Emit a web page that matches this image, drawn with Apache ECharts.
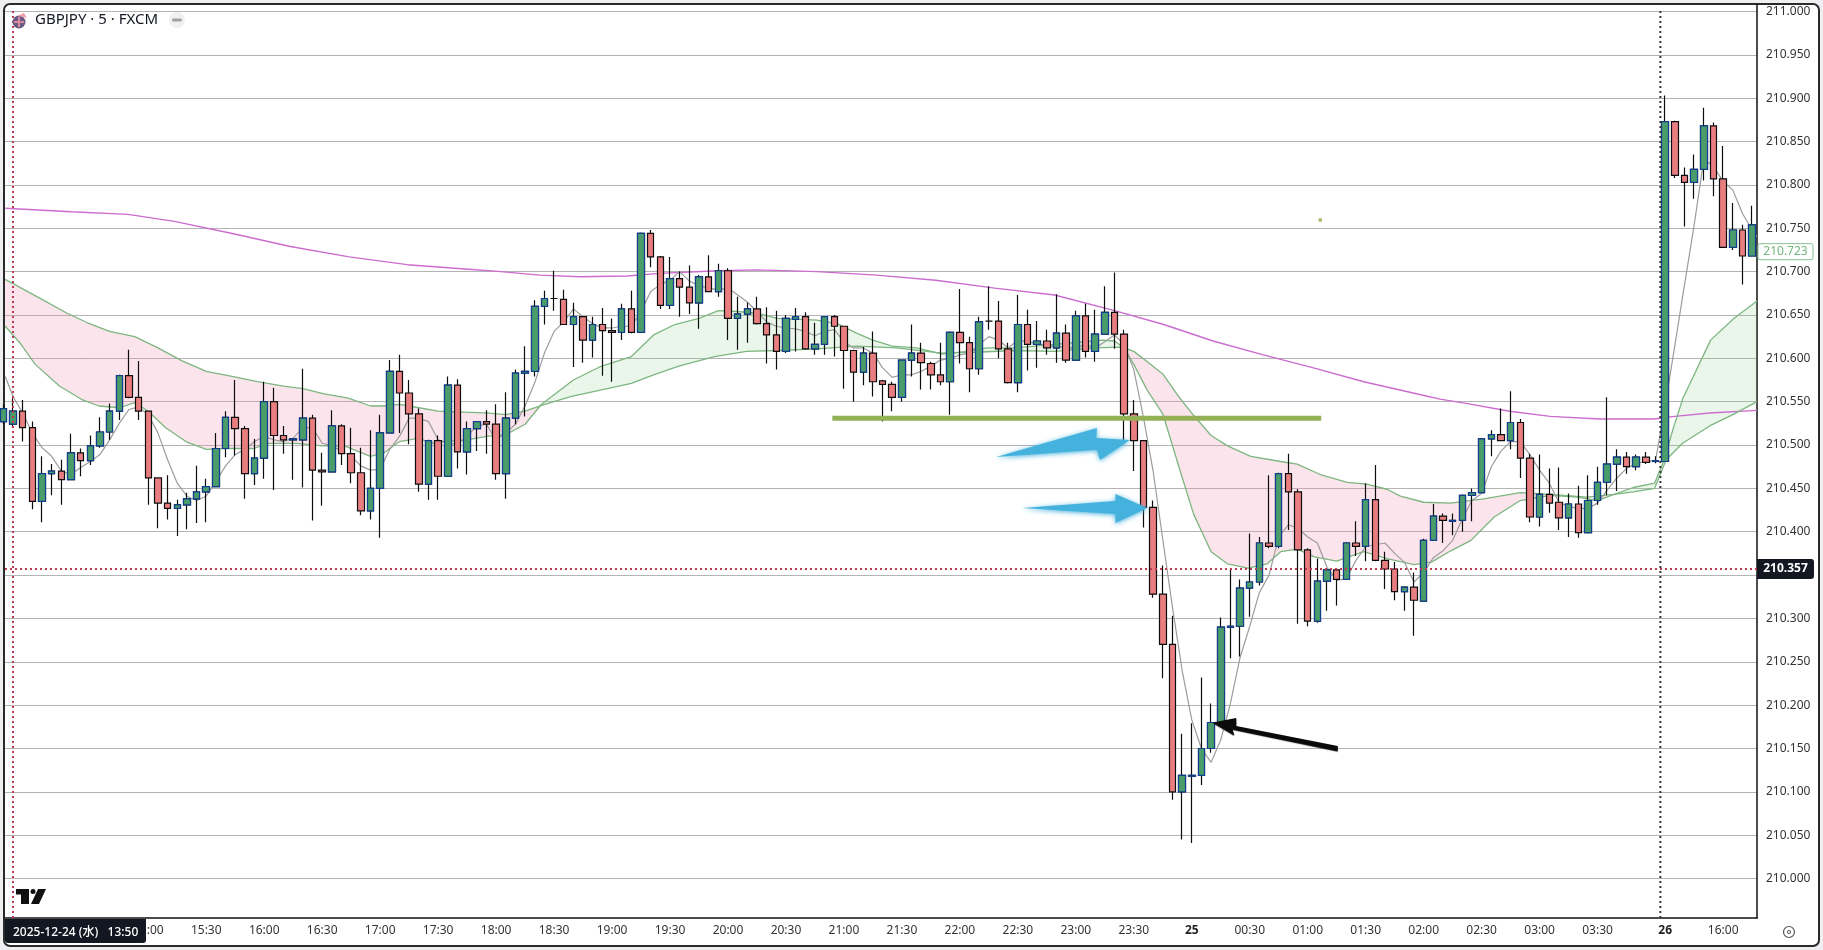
<!DOCTYPE html>
<html><head><meta charset="utf-8">
<style>html,body{margin:0;padding:0;background:#efeff1;overflow:hidden}#c{position:absolute;left:0;top:0;width:1823px;height:950px}</style>
<script src="https://cdn.jsdelivr.net/npm/echarts@6/dist/echarts.min.js"></script>
</head><body><div id="c"></div>
<script>
const barIndex = Array.from({length:182},(_, k)=>k-1);
const opens=[210.527,210.524,210.539,210.520,210.435,210.467,210.470,210.460,210.491,210.482,210.499,210.515,210.539,210.580,210.555,210.539,210.462,210.433,210.427,210.431,210.438,210.446,210.452,210.496,210.532,210.519,210.467,210.485,210.550,210.511,210.506,210.506,210.531,210.471,210.469,210.522,210.490,210.468,210.424,210.450,210.514,210.585,210.560,210.536,210.455,210.505,210.464,210.569,210.492,210.519,210.527,210.524,210.467,210.531,210.583,210.585,210.660,210.669,210.668,210.639,210.648,210.621,210.639,210.632,210.630,210.657,210.630,210.744,210.717,210.661,210.692,210.682,210.664,210.694,210.677,210.701,210.646,210.651,210.657,210.640,210.627,210.608,210.645,210.648,210.611,210.616,210.648,210.637,210.609,210.584,210.606,210.574,210.570,210.555,210.598,210.606,210.594,210.581,210.573,210.630,210.618,210.588,210.643,210.643,210.611,210.572,210.639,210.616,210.620,210.612,210.629,210.598,210.649,210.608,210.628,210.653,210.628,210.536,210.505,210.428,210.328,210.270,210.100,210.118,210.119,210.150,210.180,210.290,210.291,210.335,210.342,210.387,210.383,210.467,210.446,210.379,210.297,210.343,210.356,210.345,210.387,210.383,210.437,210.367,210.357,210.331,210.336,210.320,210.390,210.418,210.412,210.413,210.442,210.445,210.507,210.512,210.505,210.526,210.485,210.417,210.443,210.434,210.416,210.432,210.399,210.436,210.457,210.478,210.486,210.475,210.486,210.481,210.481,210.873,210.811,210.803,210.818,210.868,210.807,210.728,210.748,210.718];
const closes=[210.542,210.539,210.520,210.435,210.467,210.470,210.460,210.491,210.482,210.499,210.515,210.539,210.580,210.555,210.539,210.462,210.433,210.427,210.431,210.438,210.446,210.452,210.496,210.532,210.519,210.467,210.485,210.550,210.511,210.506,210.507,210.531,210.471,210.469,210.522,210.490,210.468,210.424,210.450,210.514,210.585,210.560,210.536,210.455,210.505,210.464,210.569,210.492,210.519,210.527,210.524,210.467,210.531,210.583,210.585,210.660,210.669,210.669,210.639,210.648,210.621,210.639,210.632,210.630,210.657,210.630,210.744,210.717,210.661,210.692,210.682,210.664,210.694,210.677,210.701,210.646,210.651,210.657,210.640,210.627,210.608,210.646,210.648,210.611,210.616,210.648,210.637,210.609,210.584,210.606,210.573,210.570,210.555,210.598,210.606,210.595,210.581,210.573,210.630,210.618,210.588,210.642,210.643,210.611,210.572,210.639,210.616,210.620,210.612,210.629,210.598,210.649,210.608,210.628,210.653,210.628,210.536,210.505,210.428,210.328,210.270,210.100,210.119,210.119,210.150,210.180,210.290,210.291,210.335,210.342,210.387,210.383,210.467,210.446,210.379,210.297,210.343,210.356,210.345,210.387,210.383,210.437,210.367,210.357,210.331,210.336,210.321,210.390,210.418,210.413,210.413,210.442,210.445,210.507,210.512,210.505,210.526,210.485,210.417,210.443,210.433,210.416,210.432,210.399,210.436,210.457,210.478,210.486,210.475,210.486,210.480,210.482,210.873,210.811,210.803,210.818,210.868,210.807,210.728,210.748,210.718,210.754];
const lows=[210.524,210.520,210.504,210.426,210.411,210.442,210.431,210.460,210.464,210.477,210.497,210.506,210.529,210.554,210.529,210.431,210.404,210.414,210.395,210.403,210.410,210.411,210.452,210.486,210.488,210.438,210.454,210.461,210.448,210.490,210.460,210.451,210.413,210.430,210.469,210.477,210.456,210.419,210.414,210.393,210.514,210.514,210.501,210.446,210.437,210.437,210.463,210.473,210.466,210.493,210.490,210.460,210.438,210.524,210.533,210.579,210.639,210.655,210.639,210.590,210.595,210.601,210.580,210.573,210.621,210.629,210.630,210.705,210.657,210.657,210.648,210.651,210.634,210.677,210.671,210.621,210.610,210.618,210.639,210.594,210.587,210.606,210.608,210.610,210.604,210.604,210.602,210.565,210.550,210.569,210.556,210.527,210.539,210.550,210.579,210.564,210.564,210.569,210.535,210.594,210.561,210.581,210.633,210.600,210.571,210.561,210.586,210.589,210.604,210.595,210.595,210.598,210.601,210.596,210.628,210.611,210.503,210.470,210.405,210.324,210.231,210.091,210.045,210.041,210.108,210.145,210.180,210.254,210.256,210.302,210.338,210.381,210.381,210.402,210.294,210.291,210.295,210.309,210.315,210.345,210.372,210.366,210.366,210.334,210.321,210.309,210.280,210.320,210.390,210.387,210.396,210.400,210.412,210.445,210.487,210.505,210.495,210.462,210.411,210.406,210.422,210.402,210.394,210.393,210.398,210.431,210.442,210.447,210.467,210.471,210.478,210.479,210.481,210.808,210.752,210.784,210.805,210.787,210.728,210.725,210.685,210.718];
const highs=[210.547,210.554,210.552,210.527,210.487,210.478,210.483,210.513,210.496,210.511,210.532,210.548,210.581,210.610,210.597,210.539,210.462,210.465,210.437,210.445,210.476,210.461,210.514,210.539,210.575,210.522,210.507,210.573,210.566,210.522,210.508,210.588,210.535,210.491,210.540,210.524,210.520,210.497,210.517,210.535,210.598,210.604,210.575,210.542,210.506,210.511,210.579,210.576,210.527,210.527,210.540,210.547,210.561,210.587,210.614,210.667,210.678,210.701,210.679,210.664,210.648,210.648,210.658,210.646,210.663,210.678,210.745,210.748,210.718,210.717,210.700,210.707,210.696,210.719,210.709,210.704,210.671,210.664,210.671,210.659,210.655,210.650,210.658,210.653,210.641,210.648,210.650,210.637,210.610,210.613,210.631,210.575,210.573,210.598,210.639,210.618,210.596,210.618,210.631,210.680,210.625,210.648,210.683,210.666,210.618,210.673,210.656,210.643,210.633,210.674,210.639,210.655,210.663,210.656,210.683,210.699,210.633,210.552,210.505,210.436,210.361,210.303,210.167,210.179,210.232,210.202,210.301,210.357,210.345,210.398,210.394,210.465,210.468,210.490,210.449,210.381,210.369,210.358,210.358,210.388,210.412,210.456,210.477,210.377,210.365,210.337,210.353,210.392,210.432,210.421,210.421,210.443,210.450,210.508,210.517,210.542,210.562,210.530,210.490,210.489,210.473,210.474,210.444,210.453,210.465,210.475,210.555,210.495,210.492,210.489,210.492,210.487,210.903,210.874,210.820,210.835,210.889,210.872,210.845,210.779,210.754,210.776];

const smaIdx=[-0.8,0,1,2,3,4,5,6,7,8,9,10,11,12,13,14,15,16,17,18,19,20,21,22,23,24,25,26,27,28,29,30,31,32,33,34,35,36,37,38,39,40,41,42,43,44,45,46,47,48,49,50,51,52,53,54,55,56,57,58,59,60,61,62,63,64,65,66,67,68,69,70,71,72,73,74,75,76,77,78,79,80,81,82,83,84,85,86,87,88,89,90,91,92,93,94,95,96,97,98,99,100,101,102,103,104,105,106,107,108,109,110,111,112,113,114,115,116,117,118,119,120,121,122,123,124,125,126,127,128,129,130,131,132,133,134,135,136,137,138,139,140,141,142,143,144,145,146,147,148,149,150,151,152,153,154,155,156,157,158,159,160,161,162,163,164,165,166,167,168,169,170,171,172,173,174,175,176,177,178,179,180,180.5];
const smaVal=[210.579,210.556,210.537,210.514,210.497,210.487,210.470,210.466,210.474,210.481,210.489,210.506,210.525,210.541,210.544,210.535,210.514,210.483,210.456,210.441,210.436,210.441,210.458,210.476,210.489,210.495,210.504,210.510,210.506,210.504,210.508,210.520,210.520,210.502,210.499,210.493,210.487,210.476,210.471,210.472,210.495,210.510,210.531,210.531,210.527,210.506,210.502,210.501,210.510,210.522,210.524,210.506,210.514,210.524,210.545,210.572,210.606,210.631,210.642,210.657,210.648,210.640,210.635,210.635,210.637,210.637,210.654,210.677,210.685,210.690,210.700,210.689,210.684,210.681,210.679,210.681,210.673,210.665,210.654,210.642,210.637,210.635,210.634,210.631,210.626,210.631,210.633,210.619,210.612,210.612,210.606,210.589,210.578,210.581,210.581,210.585,210.591,210.598,210.600,210.604,210.606,210.616,210.625,210.621,210.612,210.621,210.619,210.617,210.614,210.614,210.612,210.612,210.616,210.612,210.619,210.627,210.616,210.587,210.532,210.470,210.391,210.313,210.240,210.183,210.150,210.134,210.160,210.202,210.255,210.291,210.330,210.350,210.394,210.408,210.404,210.394,210.387,210.359,210.344,210.346,210.367,210.383,210.385,210.387,210.375,210.365,210.342,210.353,210.370,210.378,210.390,210.415,210.436,210.444,210.475,210.493,210.504,210.504,210.489,210.471,210.456,210.434,210.429,210.427,210.427,210.433,210.448,210.462,210.473,210.479,210.481,210.482,210.546,210.615,210.685,210.754,210.830,210.821,210.804,210.794,210.767,210.748,210.740];

const fastIdx=[-0.8,0.7,2.3,4.8,7.2,8.9,11,12.6,14,15.8,17.9,20,22,24.9,26.5,29.4,32,34.3,37,38.4,40,42,43.3,44.5,47,49,51,53,54.7,58,60.7,64,66.3,68.5,71,73,75,77,79.1,83.2,85.3,87.3,89,91,93.5,96.1,98.8,100.8,103.7,107.8,109.8,112.7,114,115,116,117.4,119,119.8,120.8,122.2,124,125.7,127.8,129.8,131.2,132.9,134.7,137,139.8,142.2,145,146.8,148.8,150.9,153.3,156,159.1,161.9,164,165.7,167.7,169.9,170.9,171.8,172.8,175.7,178.1,180.5];
const fastVal=[210.637,210.618,210.593,210.568,210.552,210.545,210.543,210.549,210.539,210.520,210.504,210.495,210.496,210.496,210.502,210.502,210.499,210.499,210.487,210.491,210.504,210.508,210.502,210.504,210.506,210.510,210.512,210.524,210.547,210.575,210.590,210.602,210.627,210.639,210.646,210.655,210.654,210.652,210.646,210.644,210.640,210.629,210.621,210.614,210.612,210.605,210.608,210.612,210.612,210.616,210.618,210.621,210.620,210.612,210.593,210.563,210.536,210.507,210.470,210.420,210.377,210.363,210.358,210.363,210.377,210.380,210.371,210.366,210.377,210.369,210.362,210.365,210.378,210.390,210.417,210.436,210.442,210.440,210.436,210.443,210.451,210.456,210.483,210.518,210.553,210.621,210.646,210.666];
const slowIdx=[-0.8,3,5.6,7.7,10,12.6,15,17.5,20,22.8,25.3,28,30,32.2,34.7,37,38.4,40,42,44,46.5,49,51,53,54.8,57.8,64,66.3,68.9,72.6,75.9,79.1,83.2,87.3,91.4,96.1,99.6,103.7,107.8,111.9,114.7,115,116,117.4,119,120.5,122.2,124,125.7,128.1,131.2,132.9,135.3,138.1,140.1,142.2,143.6,146,148.8,152.2,156,159.1,162.9,165.7,167.7,169.9,171.1,172.8,175.6,178,180.5];
const slowVal=[210.691,210.668,210.652,210.641,210.631,210.625,210.612,210.597,210.585,210.579,210.573,210.568,210.565,210.559,210.554,210.545,210.545,210.547,210.543,210.539,210.538,210.537,210.535,210.539,210.546,210.556,210.571,210.581,210.591,210.602,210.608,210.609,210.611,210.614,210.612,210.606,210.607,210.609,210.608,210.612,210.613,210.612,210.608,210.596,210.582,210.558,210.534,210.511,210.499,210.487,210.481,210.478,210.466,210.457,210.455,210.449,210.441,210.434,210.433,210.438,210.445,210.443,210.440,210.443,210.446,210.450,210.483,210.502,210.522,210.535,210.550];
const maLongIdx=[-0.8,6,11.9,16.7,22.7,28.7,34.8,40.8,46.8,50.5,54.5,58.7,63.6,66.9,73,77,83.2,89.4,95.5,101.6,107.8,114,119.1,124.2,129.4,134.6,139.8,145.7,147.7,150.4,154.9,159.1,164.2,169.8,172,175.6,180.5];
const maLongVal=[210.773,210.769,210.766,210.758,210.744,210.729,210.717,210.708,210.703,210.700,210.696,210.694,210.695,210.698,210.701,210.702,210.700,210.696,210.690,210.681,210.673,210.655,210.639,210.620,210.604,210.589,210.573,210.558,210.553,210.548,210.539,210.533,210.530,210.530,210.533,210.537,210.540];

const tickIdx=[2,8,14,20,26,32,38,44,50,56,62,68,74,80,86,92,98,104,110,116,122,128,134,140,146,152,158,164,171,177];
const tickLabels=["14:00","14:30","15:00","15:30","16:00","16:30","17:00","17:30","18:00","18:30","19:00","19:30","20:00","20:30","21:00","21:30","22:00","22:30","23:00","23:30","25","00:30","01:00","01:30","02:00","02:30","03:00","03:30","26","16:00"];
const priceTicks=[210,210.05,210.1,210.15,210.2,210.25,210.3,210.35,210.4,210.45,210.5,210.55,210.6,210.65,210.7,210.75,210.8,210.85,210.9,210.95,211];
const crosshairPrice=210.357, crosshairBar=0, sessionBreak=170.5, lastValue=210.723;
const levelLine=[[84.8,210.531],[135.4,210.531]];
const markerDot=[[135.3,210.7595]];
const blueArrowA=[[101.76,210.4862],[112.2,210.5196],[112.1,210.508],[115.6,210.5058],[112.5,210.4827],[112.2,210.4945]];
const blueArrowB=[[104.45,210.4273],[114.1,210.4354],[114.1,210.4434],[117.4,210.4273],[114.1,210.41],[114.1,210.4204]];
const blackArrow=[[124.2,210.18],[126.6,210.1852],[126.6,210.176],[137.1,210.153],[137.1,210.1473],[126.2,210.1725],[126.4,210.1656]];
const xMin=-0.828,xMax=180.5,yMin=209.9545,yMax=211.0075;

const pairs=(a,b)=>a.map((v,k)=>[v,b[k]]);
const lerp=(xs,ys,x)=>{ if(x<=xs[0])return ys[0]; for(let k=1;k<xs.length;k++){ if(x<=xs[k]){const t=(x-xs[k-1])/(xs[k]-xs[k-1]);return ys[k-1]+t*(ys[k]-ys[k-1]);}} return ys[ys.length-1]; };
const ribX=[...new Set([...fastIdx,...slowIdx])].sort((a,b)=>a-b);
const ribSegs=[];
for(let k=1;k<ribX.length;k++){
  const x0=ribX[k-1],x1=ribX[k],a0=lerp(fastIdx,fastVal,x0),b0=lerp(slowIdx,slowVal,x0),a1=lerp(fastIdx,fastVal,x1),b1=lerp(slowIdx,slowVal,x1);
  const d0=a0-b0,d1=a1-b1;
  if(d0*d1<0){const t=d0/(d0-d1),xm=x0+t*(x1-x0),ym=a0+t*(a1-a0);ribSegs.push([x0,a0,b0,xm,ym,ym]);ribSegs.push([xm,ym,ym,x1,a1,b1]);}
  else ribSegs.push([x0,a0,b0,x1,a1,b1]);
}
const ohlc=barIndex.map((x,k)=>[x,opens[k],closes[k],lows[k],highs[k]]);
const upBodies=barIndex.map((x,k)=>[x,opens[k],closes[k],opens[k],closes[k]]).filter(d=>d[2]>d[1]);
const arrows=[{pts:blueArrowA,fill:'#45b1dd',blur:5},{pts:blueArrowB,fill:'#45b1dd',blur:5},{pts:blackArrow,fill:'#0a0a0a',blur:1}];
const FONT='"Noto Sans","Noto Sans CJK JP",sans-serif';
const lbl={};tickIdx.forEach((v,k)=>lbl[v]=tickLabels[k]);
const boldLabels=["25","26"];

const chart=echarts.init(document.getElementById('c'),null,{renderer:'canvas'});
chart.setOption({
  animation:false,backgroundColor:'transparent',
  grid:{left:5,right:66,top:5,bottom:32,containLabel:false},
  xAxis:{type:'value',min:xMin,max:xMax,position:'bottom',
    axisLine:{show:true,onZero:false,lineStyle:{color:'#111',width:1.5}},
    axisTick:{show:false,customValues:tickIdx},
    axisLabel:{customValues:tickIdx,formatter:v=>boldLabels.includes(lbl[v])?'{b|'+lbl[v]+'}':(lbl[v]||''),rich:{b:{fontWeight:'bold',fontSize:12,fontFamily:FONT,color:'#222'}},color:'#333',fontSize:12,fontFamily:FONT,margin:7,hideOverlap:false,showMinLabel:true,showMaxLabel:true},
    splitLine:{show:false}},
  yAxis:{type:'value',min:yMin,max:yMax,position:'right',
    axisLine:{show:true,onZero:false,lineStyle:{color:'#111',width:1.5}},
    axisTick:{show:false,customValues:priceTicks},
    axisLabel:{customValues:priceTicks,formatter:v=>v.toFixed(3),color:'#333',fontSize:12,fontFamily:FONT,margin:9},
    splitLine:{show:true,lineStyle:{color:'#b4b4b4',width:1}}},
  series:[
    {type:'custom',name:'ribbon',z:1,clip:true,silent:true,data:ribSegs,
      encode:{x:0,y:1},
      renderItem:(p,api)=>{const v=[0,1,2,3,4,5].map(i=>api.value(i));
        const pts=[api.coord([v[0],v[1]]),api.coord([v[3],v[4]]),api.coord([v[3],v[5]]),api.coord([v[0],v[2]])];
        const pink=(v[1]+v[4])<(v[2]+v[5]);
        return {type:'polygon',shape:{points:pts},style:{fill:pink?'rgba(244,143,177,0.24)':'rgba(129,199,132,0.17)'}};}},
    {type:'line',name:'MA long',z:2,showSymbol:false,silent:true,data:pairs(maLongIdx,maLongVal),lineStyle:{color:'#cc6ccf',width:1.4}},
    {type:'line',name:'Ribbon fast',z:2,showSymbol:false,silent:true,data:pairs(fastIdx,fastVal),lineStyle:{color:'#7db680',width:1.3}},
    {type:'line',name:'Ribbon slow',z:2,showSymbol:false,silent:true,data:pairs(slowIdx,slowVal),lineStyle:{color:'#7db680',width:1.3}},
    {type:'line',name:'MA short',z:3,showSymbol:false,silent:true,data:pairs(smaIdx,smaVal),lineStyle:{color:'#9c9c9c',width:1.2}},
    {type:'candlestick',name:'GBPJPY',z:4,silent:true,barWidth:7,data:ohlc,
      itemStyle:{color:'#4b9c6b',color0:'#e87e80',borderColor:'#0c0c0c',borderColor0:'#0c0c0c',borderWidth:1.2}},
    {type:'candlestick',name:'Up bodies',z:5,silent:true,barWidth:7,data:upBodies,
      itemStyle:{color:'#4b9c6b',color0:'#4b9c6b',borderColor:'#103f8f',borderColor0:'#103f8f',borderWidth:1.2}},
    {type:'line',name:'Level',z:6,showSymbol:false,silent:true,data:levelLine,lineStyle:{color:'#93b057',width:5,cap:'butt'}},
    {type:'scatter',name:'Dot',z:6,silent:true,symbol:'rect',symbolSize:3.5,data:markerDot,itemStyle:{color:'#9aae4e'}},
    {type:'custom',name:'arrows',z:7,silent:true,clip:true,data:arrows.map((a,k)=>[k,yMin]),
      renderItem:(p,api)=>{const a=arrows[p.dataIndex];
        return {type:'polygon',shape:{points:a.pts.map(q=>api.coord(q))},style:{fill:a.fill,shadowBlur:a.blur,shadowColor:a.fill,shadowOffsetY:1}};}},
    {type:'line',name:'Session break',z:8,showSymbol:false,silent:true,data:[[sessionBreak,yMin],[sessionBreak,yMax-0.007]],lineStyle:{color:'#333',width:2,type:[2,3]}},
    {type:'line',name:'Crosshair V',z:8,showSymbol:false,silent:true,data:[[crosshairBar,yMin],[crosshairBar,yMax-0.007]],lineStyle:{color:'#bd3a50',width:2,type:[2,3]}},
    {type:'line',name:'Crosshair H',z:8,showSymbol:false,silent:true,data:[[xMin,crosshairPrice],[xMax,crosshairPrice]],lineStyle:{color:'#bd3a50',width:2,type:[2,3]}}
  ]
});
const yPx=p=>chart.convertToPixel({yAxisIndex:0},p);
const yC=yPx(crosshairPrice), yL=yPx(lastValue);
chart.setOption({graphic:[
  {type:'rect',z:-10,silent:true,shape:{x:4,y:4,width:1815,height:942,r:6},style:{fill:'#fff',stroke:'#2a2a2a',lineWidth:2}},
  {type:'rect',z:100,silent:true,shape:{x:1757,y:yC-10,width:57,height:20,r:[0,3,3,0]},style:{fill:'#131722'}},
  {type:'text',z:101,silent:true,x:1785.5,y:yC,style:{text:crosshairPrice.toFixed(3),fill:'#fff',font:'bold 12px '+FONT,align:'center',verticalAlign:'middle'}},
  {type:'rect',z:100,silent:true,shape:{x:1758,y:yL-8,width:55,height:16,r:2},style:{fill:'#fff',stroke:'#86c08f',lineWidth:1}},
  {type:'text',z:101,silent:true,x:1785.5,y:yL,style:{text:lastValue.toFixed(3),fill:'#72b57e',font:'12px '+FONT,align:'center',verticalAlign:'middle'}},
  {type:'rect',z:100,silent:true,shape:{x:5,y:919,width:141,height:24,r:[0,0,3,3]},style:{fill:'#131722'}},
  {type:'text',z:101,silent:true,x:13,y:933,style:{text:'2025-12-24 (水)   13:50',fill:'#fff',font:'500 12px '+FONT,verticalAlign:'middle'}},
  {type:'text',z:101,silent:true,x:35,y:20,style:{text:'GBPJPY · 5 · FXCM',fill:'#131722',font:'15px '+FONT,verticalAlign:'middle'}},
  {type:'circle',z:101,silent:true,shape:{cx:19,cy:22,r:6.5},style:{fill:'#6a5a86'}},
  {type:'line',z:102,silent:true,shape:{x1:14,y1:22,x2:24,y2:22},style:{stroke:'#d98a9a',lineWidth:2}},
  {type:'line',z:102,silent:true,shape:{x1:19,y1:17,x2:19,y2:27},style:{stroke:'#d98a9a',lineWidth:2}},
  {type:'polygon',z:102,silent:true,shape:{points:[[17,16],[24,13],[27,18],[24,17]]},style:{fill:'#f0a0a8'}},
  {type:'circle',z:101,silent:true,shape:{cx:177,cy:20,r:8},style:{fill:'#f0f0f0'}},
  {type:'rect',z:102,silent:true,shape:{x:172,y:18.5,width:10,height:3,r:1.5},style:{fill:'#a0a0a0'}},
  {type:'polygon',z:101,silent:true,shape:{points:[[16,889],[29,889],[29,904],[21,904],[21,894.5],[16,894.5]]},style:{fill:'#111'}},
  {type:'circle',z:101,silent:true,shape:{cx:33,cy:891.5,r:2.5},style:{fill:'#111'}},
  {type:'polygon',z:101,silent:true,shape:{points:[[38,889],[46,889],[39,904],[31,904]]},style:{fill:'#111'}},
  {type:'circle',z:101,silent:true,shape:{cx:1789,cy:932,r:5.5},style:{fill:'#fff',stroke:'#555',lineWidth:1.2}},
  {type:'circle',z:102,silent:true,shape:{cx:1789,cy:932,r:1.6},style:{fill:'#fff',stroke:'#555',lineWidth:1}}
]});
</script></body></html>
